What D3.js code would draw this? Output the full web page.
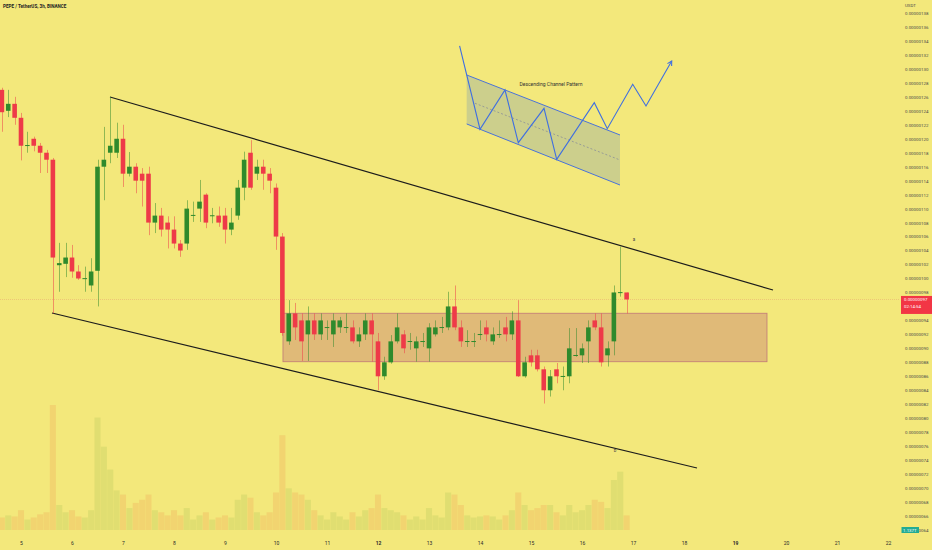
<!DOCTYPE html>
<html><head><meta charset="utf-8">
<script src="https://cdn.jsdelivr.net/npm/d3@7"></script>
<style>html,body{margin:0;padding:0;background:#f3e87b;overflow:hidden}svg{display:block}</style>
</head><body>
<svg id="c" width="932" height="550"></svg>
<script>
// ---------- data (prices in units of 1e-8 USDT) ----------
const title = "PEPE / TetherUS, 3h, BINANCE";
const currency = "USDT";
const dayTicks = [5,6,7,8,9,10,11,12,13,14,15,16,17,18,19,20,21,22];
const boldDays = [12,19];
// 0.00000096 sits under the live price label, so it is not printed
const priceTicks = d3.range(64, 139, 2).filter(v => v !== 96);
const firstCandleDay = 5 - 3/8;   // 3h candles, 8 per day
const candleStep = 1/8;

const opens  = [127.0,124.0,125.0,123.0,119.0,120.0,119.0,118.0,117.0,101.9,102.1,103.0,101.0,100.0,99.0,101.1,116.0,118.0,118.0,120.0,115.0,116.0,115.0,115.0,108.0,109.0,108.0,107.0,105.0,105.0,109.0,110.0,112.0,109.0,109.0,109.0,107.0,109.0,113.0,118.0,115.0,116.0,115.0,113.0,106.0,91.0,95.0,94.0,92.0,94.0,92.0,93.0,92.0,93.0,93.0,93.0,91.0,92.0,94.0,91.0,86.0,88.0,91.0,92.0,91.0,90.0,91.0,90.0,92.0,93.0,93.0,96.0,93.0,91.0,91.0,92.0,93.0,91.0,92.0,93.0,92.0,94.0,86.0,89.0,89.0,87.0,84.0,87.0,86.0,86.0,89.0,89.0,91.0,94.0,93.0,89.0,91.0,98.0,98.0];
const highs  = [127.3,127.0,126.0,123.7,121.0,120.3,119.4,118.4,117.25,105.1,105.1,104.8,101.9,101.7,102.9,117.0,121.7,126.0,122.3,122.0,118.1,116.5,115.8,116.0,110.8,110.1,108.9,108.9,105.5,111.2,111.0,114.1,112.2,110.1,110.3,110.1,110.1,114.1,118.15,119.8,117.0,117.0,115.8,113.6,106.5,96.9,96.5,95.0,96.0,95.0,95.0,94.0,95.0,94.5,95.0,94.0,93.0,95.0,95.0,92.2,88.8,91.9,95.0,92.6,92.2,91.7,92.2,93.6,94.0,94.5,98.1,99.0,94.0,92.6,92.2,94.0,94.0,93.0,94.0,94.5,95.3,96.9,88.8,89.8,89.8,87.4,86.9,87.9,87.4,92.9,92.9,90.7,94.0,95.0,95.0,91.0,99.0,104.55,98.0];
const lows   = [121.0,123.1,122.0,116.9,118.0,118.2,115.1,115.1,95.0,98.1,100.2,100.1,99.8,98.1,98.1,96.0,111.2,116.5,117.25,113.1,114.6,112.2,110.3,106.2,106.5,106.0,104.3,104.3,103.1,104.1,108.1,108.1,107.2,107.9,107.4,105.0,106.2,108.4,111.2,112.7,114.1,112.7,112.2,104.1,91.8,90.5,91.2,88.2,88.2,91.2,91.2,91.2,90.2,92.2,92.2,90.7,90.2,91.2,88.1,84.0,85.5,87.8,90.7,89.3,89.8,88.1,90.2,88.1,91.7,92.2,92.6,92.6,90.2,90.2,90.2,91.2,91.0,90.5,91.5,91.0,91.2,85.9,85.8,87.4,86.7,82.1,83.1,85.0,84.0,85.0,88.8,87.9,87.9,92.6,87.4,87.4,89.0,97.4,95.0];
const closes = [123.8,125.0,123.0,119.0,119.1,119.0,118.0,117.0,103.0,102.2,103.0,101.0,100.0,100.05,101.0,116.0,117.0,119.0,120.0,115.0,116.0,114.0,114.0,108.0,109.0,107.0,107.0,105.0,104.0,110.0,109.1,111.0,108.0,109.05,108.0,107.0,108.0,113.0,117.0,113.0,116.0,115.0,114.0,106.0,92.2,95.0,93.0,91.0,94.0,92.0,94.0,93.05,94.0,94.0,93.05,91.0,92.0,94.0,92.0,86.0,88.0,91.0,93.0,90.0,91.05,91.0,91.05,93.0,93.0,93.05,96.0,93.0,91.0,91.05,91.05,92.05,92.0,92.0,92.05,92.0,94.0,86.0,88.0,88.0,87.0,84.0,86.0,86.0,86.05,90.0,89.05,90.0,93.0,93.0,88.0,90.0,98.0,98.05,97.0];
// volume, trillions of PEPE
const volumes = [1.2,1.4,1.3,1.9,1.0,1.2,1.5,1.7,12.0,2.4,1.7,1.9,1.3,1.2,1.9,10.8,8.0,5.8,3.8,3.4,2.1,2.6,2.9,3.4,1.9,1.7,1.4,1.9,1.4,2.1,1.0,1.4,1.7,1.0,1.2,1.4,1.2,2.9,3.4,3.1,1.7,1.4,1.7,3.6,9.1,4.0,3.6,3.4,2.9,1.9,1.4,1.0,1.7,1.3,1.0,1.7,1.3,1.9,2.1,3.4,2.1,1.9,1.7,1.4,1.0,1.3,1.0,2.1,1.4,1.2,3.6,3.4,2.4,1.4,1.2,1.3,1.4,1.3,1.0,1.4,1.9,3.6,2.4,1.9,2.1,2.4,2.4,1.7,1.4,2.4,1.7,1.9,2.4,2.9,2.7,2.1,4.8,5.6,1.4];
const volumeLabel = "1.137T";
const countdown = "02:14:54";

// annotations, in (day, price) coordinates
const upperChannel = [[6.745,125.98],[19.745,98.35]];
const lowerChannel = [[5.608,95.06],[18.255,72.87]];
const zone = {x0:10.137, x1:19.627, top:95.02, bottom:88.09};
const pointLabels = [{d:17.02,p:105.37,t:"a"},{d:16.647,p:75.16,t:"b"}];
// inset "Descending Channel Pattern" sketch
const patternBox = [[13.739,129.13],[16.745,120.54],[16.745,113.38],[13.739,122.12]];
const patternMid = [[13.902,125.08],[16.745,116.96]];
const patternPath = [[13.6,133.3],[14.0,121.36],[14.49,126.98],[14.751,119.44],[15.255,124.36],[15.504,117.06],[16.241,125.16],[16.496,121.44],[16.994,127.80],[17.255,124.69],[17.759,131.13]];
const patternTitle = {d:15.392,p:127.6,t:"Descending Channel Pattern"};

// ---------- scales ----------
const svg = d3.select("#c");
const x = d3.scaleLinear().domain([5,22]).range([21,888]);
const y = d3.scaleLinear().domain([64,138]).range([530,13]);
const yv = d3.scaleLinear().domain([0,12]).range([530,405]);
const candles = opens.map((o,i)=>({i, d:firstCandleDay + i*candleStep, o, h:highs[i], l:lows[i], c:closes[i], v:volumes[i]}));
const bw = (x(1)-x(0))*candleStep*0.72;
const vw = (x(1)-x(0))*candleStep*0.95;
const RED = "#ee3a48", GREEN = "#2f8a2c";

const plot = svg.append("g");

// volume
plot.append("g").selectAll("rect").data(candles).join("rect")
  .attr("x", d=>x(d.d)-vw/2).attr("width", vw)
  .attr("y", d=>yv(d.v)).attr("height", d=>yv(0)-yv(d.v))
  .attr("fill", d=>d.c>=d.o ? "#7ab040" : "#f0703a")
  .attr("opacity", d=>d.c>=d.o ? 0.16 : 0.17);

// zone
plot.append("rect")
  .attr("x", x(zone.x0)).attr("width", x(zone.x1)-x(zone.x0))
  .attr("y", y(zone.top)).attr("height", y(zone.bottom)-y(zone.top))
  .attr("fill", "rgb(208,148,118)").attr("fill-opacity", 0.55)
  .attr("stroke", "rgb(196,128,120)").attr("stroke-width", 0.9);

// current price line
const last = candles[candles.length-1];
plot.append("line").attr("x1",0).attr("x2",900).attr("y1",y(last.c)).attr("y2",y(last.c))
  .attr("stroke","#e8a070").attr("stroke-width",0.7).attr("stroke-dasharray","1,1").attr("opacity",0.7);

// channel lines
const line = d3.line().x(p=>x(p[0])).y(p=>y(p[1]));
[upperChannel, lowerChannel].forEach(l=>{
  plot.append("path").attr("d", line(l)).attr("fill","none").attr("stroke","#1c1c1c").attr("stroke-width",1.2);
});

// candles
const cg = plot.append("g");
cg.selectAll("line").data(candles).join("line")
  .attr("x1", d=>Math.round(x(d.d))+0.5).attr("x2", d=>Math.round(x(d.d))+0.5)
  .attr("y1", d=>y(d.h)).attr("y2", d=>y(d.l))
  .attr("stroke", d=>d.c>=d.o ? GREEN : RED).attr("stroke-width",1).attr("opacity",0.5);
cg.selectAll("rect").data(candles).join("rect")
  .attr("x", d=>x(d.d)-bw/2).attr("width", bw)
  .attr("y", d=>y(Math.max(d.o,d.c)))
  .attr("height", d=>Math.max(1, Math.abs(y(d.o)-y(d.c))))
  .attr("fill", d=>d.c>=d.o ? GREEN : RED);

// point labels
plot.selectAll("text.pl").data(pointLabels).join("text").attr("class","pl")
  .attr("x", d=>x(d.d)).attr("y", d=>y(d.p)).attr("text-anchor","middle")
  .attr("font-family","Roboto, sans-serif").attr("font-size",4.5).attr("fill","#444").text(d=>d.t);

// inset pattern
const ins = svg.append("g");
ins.append("path").attr("d", line(patternBox)+"Z").attr("fill","#8fa6a8").attr("fill-opacity",0.38).attr("stroke","none");
ins.append("path").attr("d", line([patternBox[0],patternBox[1]])).attr("stroke","#4a73d8").attr("stroke-width",1).attr("fill","none");
ins.append("path").attr("d", line([patternBox[3],patternBox[2]])).attr("stroke","#4a73d8").attr("stroke-width",1).attr("fill","none");
ins.append("path").attr("d", line(patternMid)).attr("stroke","#8a8f98").attr("stroke-width",0.8).attr("stroke-dasharray","2,2").attr("fill","none");
ins.append("path").attr("d", line(patternPath)).attr("stroke","#3f6fe0").attr("stroke-width",1.1).attr("fill","none").attr("stroke-linejoin","miter");
{
  const n = patternPath.length;
  const [ax,ay] = [x(patternPath[n-1][0]), y(patternPath[n-1][1])];
  const [bx,by] = [x(patternPath[n-2][0]), y(patternPath[n-2][1])];
  const ang = Math.atan2(ay-by, ax-bx), L = 5;
  const p1 = [ax - L*Math.cos(ang-0.5), ay - L*Math.sin(ang-0.5)];
  const p2 = [ax - L*Math.cos(ang+0.5), ay - L*Math.sin(ang+0.5)];
  ins.append("path").attr("d", `M${p1}L${ax},${ay}L${p2}`).attr("stroke","#3f6fe0").attr("stroke-width",1.1).attr("fill","none");
}
ins.append("text").attr("x", x(patternTitle.d)).attr("y", y(patternTitle.p)).attr("text-anchor","middle")
  .attr("font-family","Roboto, sans-serif").attr("font-size",5).attr("fill","#333").text(patternTitle.t);

// ---------- axes ----------
const yAxis = d3.axisRight(y).tickValues(priceTicks).tickSize(0).tickPadding(0)
  .tickFormat(v=>(v*1e-8).toFixed(8));
const ya = svg.append("g").attr("transform","translate(905,0)").call(yAxis);
ya.select(".domain").remove();
ya.selectAll("text").attr("font-family","Roboto, sans-serif").attr("font-size",4.4).attr("fill","#4a4a4a");

const xAxis = d3.axisBottom(x).tickValues(dayTicks).tickSize(0).tickPadding(0).tickFormat(d3.format("d"));
const xa = svg.append("g").attr("transform","translate(0,541)").call(xAxis);
xa.select(".domain").remove();
xa.selectAll("text").attr("font-family","Roboto, sans-serif").attr("font-size",5).attr("fill","#2a2a2a")
  .attr("font-weight", d=>boldDays.includes(d) ? "bold" : "normal");

svg.append("text").attr("x",905).attr("y",6.5).attr("font-family","Roboto, sans-serif").attr("font-size",4.4).attr("fill","#4a4a4a").text(currency);
svg.append("text").attr("x",3).attr("y",7.5).attr("font-family","Roboto, sans-serif").attr("font-size",4.6).attr("font-weight","bold").attr("fill","#222").text(title);

// price label
const py = y(last.c);
svg.append("rect").attr("x",901).attr("y",py-3.5).attr("width",31).attr("height",18).attr("fill","#f23645");
svg.append("text").attr("x",904).attr("y",py+2).attr("font-family","Roboto, sans-serif").attr("font-size",4.4).attr("fill","#fff").text((last.c*1e-8).toFixed(8));
svg.append("text").attr("x",904).attr("y",py+9).attr("font-family","Roboto, sans-serif").attr("font-size",4.4).attr("fill","#fff").text(countdown);

// volume label
const vy = y(64);
svg.append("rect").attr("x",901.5).attr("y",vy-3).attr("width",17.5).attr("height",6).attr("fill","#22ab94");
svg.append("text").attr("x",903).attr("y",vy+1.5).attr("font-family","Roboto, sans-serif").attr("font-size",4.4).attr("fill","#fff").text(volumeLabel);
</script>
</body></html>
